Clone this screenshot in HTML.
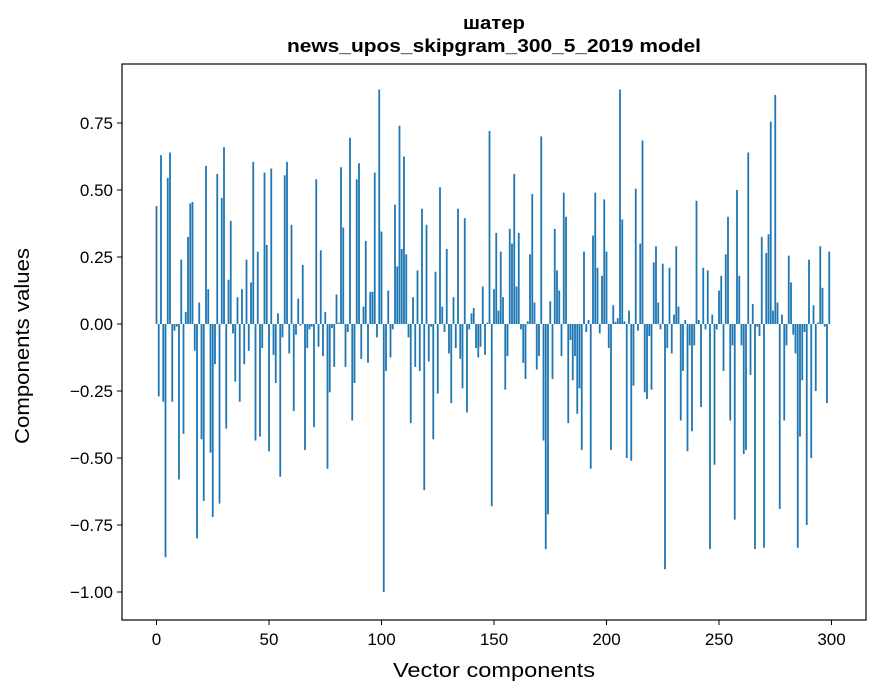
<!DOCTYPE html>
<html><head><meta charset="utf-8"><style>
body{margin:0;background:#fff;}
svg{display:block;font-family:"Liberation Sans",sans-serif;}
</style></head><body>
<svg id="chart" width="880" height="696">
<rect x="0" y="0" width="880" height="696" fill="#fff"/>
<text x="494" y="29" text-anchor="middle" font-size="18" font-weight="bold" textLength="62" lengthAdjust="spacingAndGlyphs">шатер</text>
<text x="494" y="52" text-anchor="middle" font-size="18" font-weight="bold" textLength="414" lengthAdjust="spacingAndGlyphs">news_upos_skipgram_300_5_2019 model</text>
<g id="bars"></g>
<g id="axes"></g>
<rect x="122" y="64" width="744" height="556" fill="none" stroke="#000" stroke-width="1.2"/>
<text x="494" y="677" text-anchor="middle" font-size="20" textLength="202" lengthAdjust="spacingAndGlyphs">Vector components</text>
<text transform="translate(29,346) rotate(-90)" text-anchor="middle" font-size="20" textLength="196" lengthAdjust="spacingAndGlyphs">Components values</text>
</svg>
<script>
const values = [
0.44,-0.27,0.63,-0.29,-0.87,0.545,0.64,-0.29,-0.025,-0.01,
-0.58,0.24,-0.41,0.045,0.325,0.45,0.455,-0.1,-0.8,0.08,
-0.43,-0.66,0.59,0.13,-0.48,-0.72,-0.15,0.56,-0.67,0.47,
0.66,-0.39,0.165,0.385,-0.035,-0.215,0.1,-0.29,0.13,-0.15,
0.24,-0.1,0.155,0.605,-0.435,0.27,-0.42,-0.09,0.565,0.295,
-0.475,0.58,-0.115,-0.22,0.04,-0.57,-0.05,0.555,0.605,-0.11,
0.37,-0.325,-0.04,0.095,-0.006,0.22,-0.47,-0.09,-0.02,-0.01,
-0.385,0.54,-0.085,0.275,-0.12,0.045,-0.54,-0.255,-0.015,-0.16,
0.11,0.005,0.585,0.36,-0.16,-0.03,0.695,-0.36,-0.22,0.54,
0.6,-0.13,0.065,0.31,-0.145,0.12,0.12,0.565,-0.05,0.875,
0.345,-1.0,-0.175,0.125,-0.125,-0.02,0.445,0.215,0.74,0.28,
0.625,0.26,-0.05,-0.37,0.1,-0.16,0.2,-0.175,0.43,-0.62,
0.37,-0.14,-0.01,-0.43,0.195,-0.26,0.51,0.065,-0.03,0.28,
-0.11,-0.295,0.1,-0.09,0.43,-0.13,-0.24,0.395,-0.33,-0.02,
0.04,0.06,-0.09,-0.125,-0.085,0.14,-0.115,0.005,0.72,-0.68,
0.13,0.34,0.05,0.27,0.1,-0.245,-0.12,0.355,0.3,0.56,
0.14,0.34,-0.02,-0.145,-0.205,0.01,0.26,0.485,0.08,-0.17,
-0.12,0.7,-0.435,-0.84,-0.71,0.085,-0.205,0.355,0.2,0.125,
-0.12,0.49,0.4,-0.37,-0.06,-0.21,-0.12,-0.335,-0.24,-0.47,
0.27,-0.03,0.015,-0.54,0.33,0.49,0.21,-0.035,0.18,0.465,
0.27,-0.09,-0.47,0.07,0.008,0.022,0.875,0.39,0.01,-0.5,
0.05,-0.51,-0.23,0.505,-0.025,0.3,0.685,-0.255,-0.28,-0.045,
-0.245,0.23,0.29,0.08,-0.02,0.225,-0.915,-0.09,0.21,-0.11,
0.035,0.29,0.065,-0.36,-0.175,0.015,-0.475,-0.08,-0.4,-0.08,
0.46,0.015,-0.31,0.21,-0.02,0.2,-0.84,0.035,-0.525,-0.02,
0.125,0.18,-0.175,0.26,0.4,-0.36,-0.08,-0.73,0.5,0.18,
-0.08,-0.485,-0.47,0.64,-0.19,0.075,-0.84,-0.01,-0.045,0.325,
-0.835,0.265,0.335,0.755,0.05,0.855,0.08,-0.69,0.035,-0.36,
-0.08,0.255,0.155,-0.04,-0.11,-0.835,-0.42,-0.21,-0.03,-0.75,
0.24,-0.5,0.07,-0.25,0.005,0.29,0.135,-0.01,-0.295,0.27
];
const xTicks = [0,50,100,150,200,250,300];
const yTicks = [0.75,0.5,0.25,0,-0.25,-0.5,-0.75,-1.0];
const yTickLabels = ["0.75","0.50","0.25","0.00","\u22120.25","\u22120.50","\u22120.75","\u22121.00"];

const NS = "http://www.w3.org/2000/svg";
function xScale(i){ return 156.5 + 2.25 * i; }
function yScale(v){ return 324 - 268 * v; }
const barW = 1.8;
const bars = document.getElementById('bars');
values.forEach(function(v, i){
  const r = document.createElementNS(NS, 'rect');
  const y0 = yScale(0), y1 = yScale(v);
  r.setAttribute('x', xScale(i) - barW/2);
  r.setAttribute('y', Math.min(y0, y1));
  r.setAttribute('width', barW);
  r.setAttribute('height', Math.max(Math.abs(y1 - y0), 0.3));
  r.setAttribute('fill', '#1f77b4');
  
  
  bars.appendChild(r);
});
const axes = document.getElementById('axes');
xTicks.forEach(function(t){
  const x = xScale(t);
  const l = document.createElementNS(NS, 'line');
  l.setAttribute('x1', x); l.setAttribute('x2', x);
  l.setAttribute('y1', 620); l.setAttribute('y2', 625);
  l.setAttribute('stroke', '#000');
  
  
  axes.appendChild(l);
  const tx = document.createElementNS(NS, 'text');
  tx.setAttribute('x', x); tx.setAttribute('y', 645);
  tx.setAttribute('text-anchor', 'middle');
  tx.setAttribute('font-size', '17');
  tx.textContent = t;
  
  
  axes.appendChild(tx);
});
yTicks.forEach(function(t, k){
  const y = yScale(t);
  const l = document.createElementNS(NS, 'line');
  l.setAttribute('x1', 117); l.setAttribute('x2', 122);
  l.setAttribute('y1', y); l.setAttribute('y2', y);
  l.setAttribute('stroke', '#000');
  
  
  axes.appendChild(l);
  const tx = document.createElementNS(NS, 'text');
  tx.setAttribute('x', 113); tx.setAttribute('y', y + 6);
  tx.setAttribute('text-anchor', 'end');
  tx.setAttribute('font-size', '17');
  tx.textContent = yTickLabels[k];
  
  
  axes.appendChild(tx);
});
</script>
</body></html>
